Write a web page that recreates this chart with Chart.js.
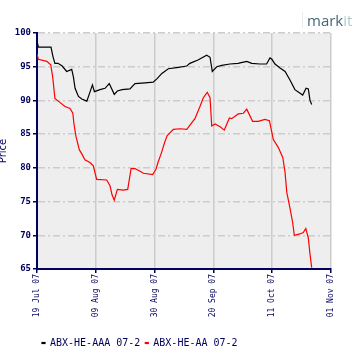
<!DOCTYPE html>
<html>
<head>
<meta charset="utf-8">
<script src="https://cdn.jsdelivr.net/npm/chart.js@4/dist/chart.umd.min.js"></script>
<style>
html,body{margin:0;padding:0;background:#fff;}
#wrap{width:360px;height:360px;}
</style>
</head>
<body>
<div id="wrap"><canvas id="c" width="360" height="360"></canvas></div>
<script>
// Days since 19 Jul 07
const tickLabels = ['19 Jul 07','09 Aug 07','30 Aug 07','20 Sep 07','11 Oct 07','01 Nov 07'];
const seriesNames = ['ABX-HE-AAA 07-2','ABX-HE-AA 07-2'];

const aaaDays = [0,0.5,5,5.7,6.4,7.5,9,10.6,12.4,13,13.6,14.8,16,17.8,19.8,20.5,22.5,24.3,25.8,27.6,28.7,30.4,33.2,35,38.6,41.5,42.8,44.6,46.9,50.5,53.5,54.6,57.5,60.6,61.8,62.6,64.2,66,68.9,71.8,74.9,76.7,79.6,82,83.2,83.9,85,86.8,88.6,90.4,92.1,94.9,96.1,96.9,97.5,98.1];
const aaaValues = [98.8,97.9,97.9,96.5,95.5,95.5,95.1,94.3,94.6,93.5,91.8,90.6,90.2,89.9,92.3,91.3,91.6,91.8,92.5,90.9,91.4,91.6,91.7,92.5,92.6,92.7,93.2,94.0,94.7,94.9,95.1,95.5,96.0,96.7,96.4,94.3,95.0,95.2,95.4,95.5,95.8,95.5,95.4,95.4,96.3,96.1,95.4,94.8,94.3,93.0,91.6,90.8,91.8,91.7,90.0,89.4];

const aaDays = [0,0.5,3.5,4.9,5.6,6.4,7.6,10,11.8,12.8,13.2,13.9,15.1,16.1,17.1,18.9,20.1,21.3,24.9,26.1,26.8,27.6,28.7,30.8,32.4,33.6,35,36.8,38,41.3,42.5,43.2,44.5,45.7,46.5,48.7,51.1,53.5,55.3,56.4,58.2,59.4,60.8,61.8,62.4,63.6,65.4,66.9,68.7,69.5,71.9,73.7,74.9,77,79,81.4,83,84.4,86.2,87.8,88.6,89.2,90.4,91.3,91.9,93.9,95.1,96,96.9,97.5,98.1];
const aaValues = [96.9,96.1,95.8,95.3,93.5,90.3,89.9,89.1,88.8,88.1,86.5,84.7,82.7,82.0,81.2,80.8,80.3,78.3,78.2,77.3,76.0,75.2,76.8,76.7,76.8,79.9,79.9,79.5,79.2,79.0,79.8,80.8,82.3,83.9,84.8,85.7,85.8,85.7,86.7,87.3,89.1,90.4,91.2,90.4,86.2,86.5,86.1,85.6,87.4,87.3,88.0,88.1,88.7,86.9,86.9,87.2,87.0,84.2,83.0,81.5,79.3,76.4,73.9,71.9,70.0,70.2,70.4,71.0,69.6,67.2,65.2];

const NAVY = '#00005e';
const GRIDC = '#cccccc';

function pts(d, v){ return d.map((x,i)=>({x:x, y:v[i]})); }

const bgPlugin = {
  id: 'bg',
  beforeDraw(chart){
    const {ctx, chartArea:a} = chart;
    ctx.save();
    ctx.fillStyle = '#eeeeee';
    ctx.fillRect(a.left, a.top, a.right-a.left, a.bottom-a.top);
    ctx.restore();
  },
  afterDraw(chart){
    const ctx = chart.ctx;
    ctx.save();
    ctx.strokeStyle = '#ececec';
    ctx.lineWidth = 1;
    ctx.beginPath(); ctx.moveTo(302.5, 12); ctx.lineTo(302.5, 28); ctx.stroke();
    ctx.font = '15px "Open Sans", sans-serif';
    ctx.textBaseline = 'alphabetic';
    ctx.fillStyle = '#46667a';
    ctx.fillText('mark', 307, 26);
    const w = ctx.measureText('mark').width;
    ctx.fillStyle = '#b0c8d0';
    ctx.fillText('it', 307 + w, 26);
    ctx.restore();
  }
};

new Chart(document.getElementById('c'), {
  type: 'line',
  data: {
    datasets: [
      {label: seriesNames[0], data: pts(aaaDays, aaaValues), borderColor: '#000000', backgroundColor: '#000000', borderWidth: 1.2, pointRadius: 0, tension: 0},
      {label: seriesNames[1], data: pts(aaDays, aaValues), borderColor: '#ff0000', backgroundColor: '#ff0000', borderWidth: 1.2, pointRadius: 0, tension: 0}
    ]
  },
  options: {
    responsive: false,
    animation: false,
    devicePixelRatio: 1,
    layout: {padding: {top: 33, right: 29, left: 0, bottom: 2}},
    plugins: {
      legend: {
        display: true,
        position: 'bottom',
        align: 'start',
        fullSize: false,
        labels: {
          boxWidth: 3,
          boxHeight: 1,
          padding: 5,
          color: NAVY,
          font: {family: '"DejaVu Sans Mono", monospace', size: 10}
        }
      },
      tooltip: {enabled: false}
    },
    scales: {
      x: {
        type: 'linear',
        min: 0, max: 105,
        afterFit(s){ s.height = 64; },
        ticks: {
          stepSize: 21,
          autoSkip: false,
          minRotation: 90, maxRotation: 90,
          padding: 1,
          color: NAVY,
          font: {family: '"DejaVu Sans Mono", monospace', size: 8},
          callback(v){ const i = Math.round(v/21); return tickLabels[i] || ''; }
        },
        grid: {color: GRIDC, lineWidth: 1.5, tickColor: NAVY, tickLength: 4, tickWidth: 1.5},
        border: {display: true, color: NAVY, width: 2}
      },
      y: {
        min: 65, max: 100,
        afterFit(s){ s.width = 37; },
        ticks: {
          stepSize: 5,
          padding: 2,
          color: NAVY,
          font: {family: '"DejaVu Sans Mono", monospace', size: 9, weight: 'bold'}
        },
        title: {
          display: true,
          text: 'Price',
          color: NAVY,
          padding: 0,
          font: {family: '"DejaVu Sans", sans-serif', size: 10, lineHeight: 0.7}
        },
        grid: {color: GRIDC, lineWidth: 1.5, tickColor: NAVY, tickLength: 4, tickWidth: 1.5},
        border: {display: true, color: NAVY, width: 2, dash: [7,3,2,3]}
      }
    }
  },
  plugins: [bgPlugin]
});
</script>
</body>
</html>
